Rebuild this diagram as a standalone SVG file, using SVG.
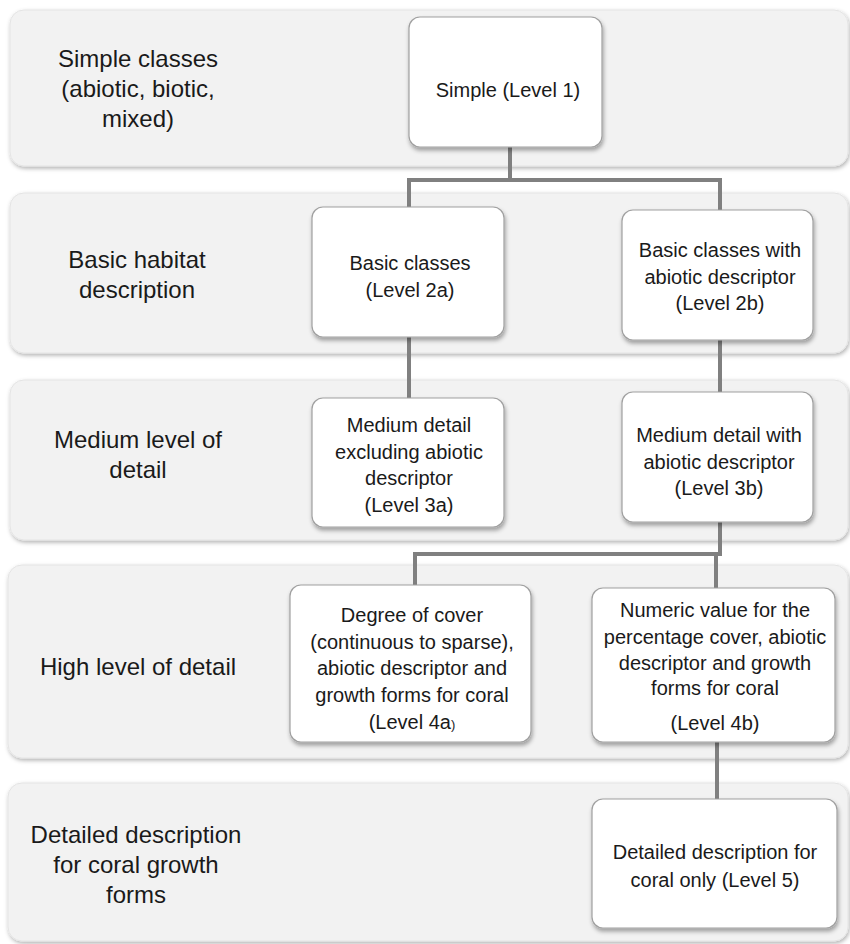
<svg xmlns="http://www.w3.org/2000/svg" width="850" height="944" viewBox="0 0 850 944">
<defs>
<filter id="sh" x="-5%" y="-5%" width="110%" height="115%">
<feDropShadow dx="1" dy="3" stdDeviation="2" flood-color="#000" flood-opacity="0.35"/>
</filter>
<filter id="shb" x="-5%" y="-5%" width="110%" height="115%">
<feDropShadow dx="1" dy="2" stdDeviation="2" flood-color="#000" flood-opacity="0.3"/>
</filter>
</defs>
<style>
.band{fill:#f2f2f2;stroke:#e4e4e4;stroke-width:1;filter:url(#shb)}
.node{fill:#ffffff;stroke:#a0a0a0;stroke-width:1.2;filter:url(#sh)}
.lbl{font-family:"Liberation Sans",Arial,sans-serif;font-size:24px;fill:#1a1a1a;text-anchor:middle}
.t{font-family:"Liberation Sans",Arial,sans-serif;font-size:20px;fill:#1a1a1a;text-anchor:middle}
.c{fill:none;stroke:#808080;stroke-width:4}
</style>
<g id="band1"><rect class="band" x="10" y="10" width="838" height="156" rx="14"/>
<text class="lbl" x="138" y="67">Simple classes</text><text class="lbl" x="138" y="97">(abiotic, biotic,</text><text class="lbl" x="138" y="127">mixed)</text></g>
<g id="band2"><rect class="band" x="10" y="193" width="838" height="160" rx="14"/>
<text class="lbl" x="137" y="268">Basic habitat</text><text class="lbl" x="137" y="298">description</text></g>
<g id="band3"><rect class="band" x="10" y="380" width="838" height="160" rx="14"/>
<text class="lbl" x="138" y="448">Medium level of</text><text class="lbl" x="138" y="478">detail</text></g>
<g id="band4"><rect class="band" x="8" y="565" width="840" height="193" rx="14"/>
<text class="lbl" x="138" y="675">High level of detail</text></g>
<g id="band5"><rect class="band" x="8" y="783" width="840" height="158" rx="14"/>
<text class="lbl" x="136" y="843">Detailed description</text><text class="lbl" x="136" y="873">for coral growth</text><text class="lbl" x="136" y="903">forms</text></g>
<g id="connectors">
<path class="c" d="M510 147 V180 M409 207 V180 H720 V210"/>
<path class="c" d="M409 337 V398 M720 340 V392"/>
<path class="c" d="M720 522 V554 H415 V585 M716 554 V588"/>
<path class="c" d="M717 742 V799"/>
</g>
<g id="n1"><rect class="node" x="409" y="17" width="193" height="130" rx="11"/>
<text class="t" x="508" y="97">Simple (Level 1)</text></g>
<g id="n2a"><rect class="node" x="312" y="207" width="192" height="130" rx="11"/>
<text class="t" x="410" y="270">Basic classes</text><text class="t" x="410" y="297">(Level 2a)</text></g>
<g id="n2b"><rect class="node" x="622" y="210" width="191" height="130" rx="11"/>
<text class="t" x="720" y="257">Basic classes with</text><text class="t" x="720" y="284">abiotic descriptor</text><text class="t" x="720" y="310">(Level 2b)</text></g>
<g id="n3a"><rect class="node" x="312" y="398" width="192" height="129" rx="11"/>
<text class="t" x="409" y="432">Medium detail</text><text class="t" x="409" y="459">excluding abiotic</text><text class="t" x="409" y="485">descriptor</text><text class="t" x="409" y="512">(Level 3a)</text></g>
<g id="n3b"><rect class="node" x="622" y="392" width="191" height="130" rx="11"/>
<text class="t" x="719" y="442">Medium detail with</text><text class="t" x="719" y="469">abiotic descriptor</text><text class="t" x="719" y="495">(Level 3b)</text></g>
<g id="n4a"><rect class="node" x="290" y="585" width="241" height="157" rx="11"/>
<text class="t" x="412" y="622">Degree of cover</text><text class="t" x="412" y="649">(continuous to sparse),</text><text class="t" x="412" y="675">abiotic descriptor and</text><text class="t" x="412" y="702">growth forms for coral</text><text class="t" x="412" y="729">(Level 4a<tspan font-size="13">)</tspan></text></g>
<g id="n4b"><rect class="node" x="592" y="588" width="243" height="154" rx="11"/>
<text class="t" x="715" y="617">Numeric value for the</text><text class="t" x="715" y="644">percentage cover, abiotic</text><text class="t" x="715" y="670">descriptor and growth</text><text class="t" x="715" y="695">forms for coral</text><text class="t" x="715" y="730">(Level 4b)</text></g>
<g id="n5"><rect class="node" x="592" y="799" width="245" height="129" rx="11"/>
<text class="t" x="715" y="859">Detailed description for</text><text class="t" x="715" y="887">coral only (Level 5)</text></g>
</svg>
